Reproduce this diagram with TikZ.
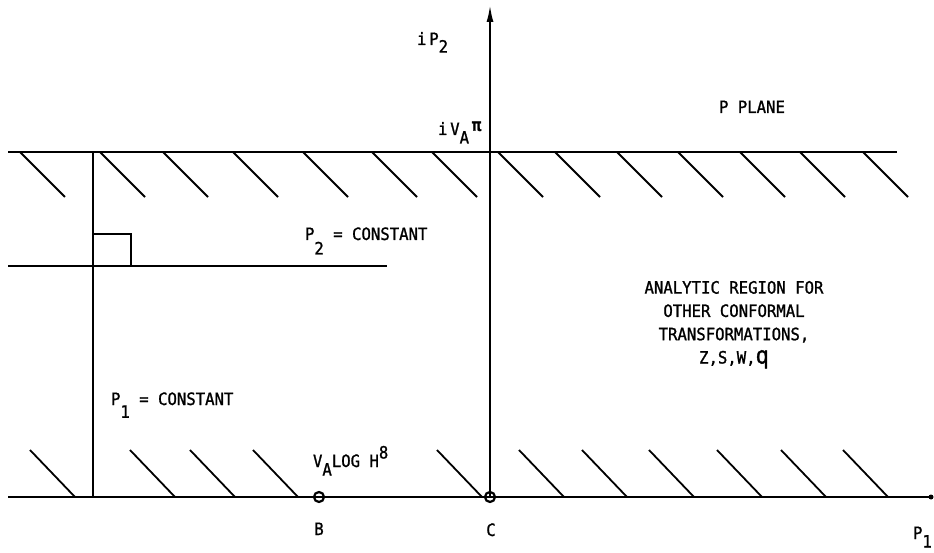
\documentclass[tikz,border=0pt]{standalone}
\usepackage{fontspec}
\setmainfont{DejaVu Sans Mono}[FakeStretch=0.92, FakeBold=1.2]
\usetikzlibrary{arrows.meta}
\newcommand{\lowx}[2][0.55em]{\raisebox{-#1}{#2}}
\newcommand{\highx}[1]{\raisebox{0.5em}{#1}}

\begin{document}
\begin{tikzpicture}[x=1pt, y=-1pt, line width=2pt,
	every node/.style={font=\fontsize{17}{23.3}\selectfont, inner sep=0pt},
	hatch/.style={line width=1.8pt},
	pt/.style={draw, circle, line width=2.2pt, minimum size=10pt}]
	\useasboundingbox (0,0) rectangle (934,553);
	% walls of the strip
	\coordinate (top l) at (8,152);
	\coordinate (top r) at (897,152);
	\coordinate (bot l) at (8,497);
	\coordinate (bot r) at (931,497);
	\draw (top l) -- (top r);
	\draw (bot l) -- (bot r);
	\fill (bot r) circle (2.5pt);
	\foreach \x in {20,100,163,233,303,372,432,498,555,617,678,740,800,863}
		\draw[hatch] (\x,152) -- ++(45,45);
	\foreach \x in {30,130,190,253,437,519,582,649,717,781,843}
		\draw[hatch] (\x,450) -- ++(45,47);
	% P1 and P2 lines, right angle
	\coordinate (p1 top) at (93,152);
	\coordinate (p1 bot) at (93,497);
	\coordinate (p2 l) at (8,266);
	\coordinate (p2 r) at (387,266);
	\draw (p1 top) -- (p1 bot);
	\draw (p2 l) -- (p2 r);
	\draw (93,234) -| (131,266);
	% points B, C and imaginary axis
	\node[pt] (B) at (319,497) {};
	\node[pt] (C) at (490,497) {};
	\coordinate (ax tip) at (490,5);
	\draw[-{Latex[length=17pt,width=7pt]}] (C.center) -- (ax tip);
	% labels
	\node[anchor=base west] (ip2) at (416,45) {i\,P\lowx[0.45em]{2}};
	\node[anchor=base west] (ivapi) at (437,135) {i\,V\lowx[0.5em]{A}\,\raisebox{0.25em}{\bfseries π}};
	\node[anchor=base west] (plane) at (718,113) {P PLANE};
	\node[anchor=base west] (p2const) at (304,240) {P\lowx[0.85em]{2} = CONSTANT};
	\node[anchor=base west] (p1const) at (110,405) {P\lowx[0.75em]{1} = CONSTANT};
	\node[anchor=base west] (valog) at (312,467) {V\lowx[0.5em]{A}LOG H\highx{8}};
	\node[anchor=base] (lblB) at (319,535) {B};
	\node[anchor=base] (lblC) at (491,536) {C};
	\node[anchor=base west] (lblP1) at (912,539) {P\lowx[0.5em]{1}};
	\node[align=center, anchor=north] (region) at (734,280)
		{ANALYTIC REGION FOR\\OTHER CONFORMAL\\TRANSFORMATIONS,\\Z,S,W,{\fontsize{24}{24}\selectfont q}};
\end{tikzpicture}
\end{document}
